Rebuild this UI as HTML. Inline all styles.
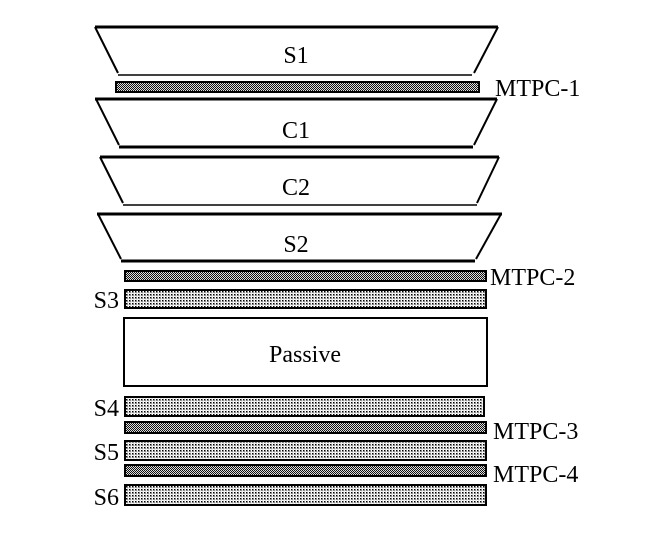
<!DOCTYPE html>
<html><head><style>html,body{margin:0;padding:0;background:#fff;}svg{display:block}</style></head>
<body>
<svg width="655" height="540" xmlns="http://www.w3.org/2000/svg" font-family="Liberation Serif, serif" font-size="24">
<defs>
<pattern id="dot" width="3" height="3" patternUnits="userSpaceOnUse"><rect width="3" height="3" fill="#fff"/><rect x="0" y="0" width="1.5" height="1.5" fill="#000"/><rect x="1.5" y="1.5" width="0.8" height="0.8" fill="#444"/></pattern>
<pattern id="chk" width="2" height="2" patternUnits="userSpaceOnUse"><rect width="2" height="2" fill="#ddd"/><rect x="0" y="0" width="1" height="1" fill="#111"/><rect x="1" y="1" width="1" height="1" fill="#111"/></pattern>
</defs>
<g stroke="#000" fill="none">
<line x1="95" y1="27" x2="498" y2="27" stroke-width="3"/>
<line x1="95" y1="27" x2="118" y2="73" stroke-width="2"/>
<line x1="498" y1="27" x2="474" y2="73" stroke-width="2"/>
<line x1="118" y1="75" x2="472" y2="75" stroke-width="1.5"/>
<line x1="95" y1="99" x2="497" y2="99" stroke-width="3"/>
<line x1="96" y1="99" x2="119" y2="145" stroke-width="2"/>
<line x1="497" y1="99" x2="474" y2="145" stroke-width="2"/>
<line x1="119" y1="147" x2="473" y2="147" stroke-width="3"/>
<line x1="100" y1="157" x2="499" y2="157" stroke-width="3"/>
<line x1="100" y1="157" x2="123" y2="203" stroke-width="2"/>
<line x1="499" y1="157" x2="477" y2="203" stroke-width="2"/>
<line x1="123" y1="205" x2="477" y2="205" stroke-width="1.5"/>
<line x1="97" y1="214" x2="502" y2="214" stroke-width="3"/>
<line x1="98" y1="214" x2="121" y2="259" stroke-width="2"/>
<line x1="501" y1="214" x2="476" y2="259" stroke-width="2"/>
<line x1="121" y1="261" x2="475" y2="261" stroke-width="3"/>
</g>
<g text-anchor="middle">
<text x="296" y="63">S1</text>
<text x="296" y="138">C1</text>
<text x="296" y="195">C2</text>
<text x="296" y="252">S2</text>
</g>
<g stroke="#000" stroke-width="2">
<rect x="116" y="82" width="363" height="10" fill="url(#chk)"/>
<rect x="125" y="271" width="361" height="10" fill="url(#chk)"/>
<rect x="125" y="290" width="361" height="18" fill="url(#dot)"/>
<rect x="124" y="318" width="363" height="68" fill="#fff"/>
<rect x="125" y="397" width="359" height="19" fill="url(#dot)"/>
<rect x="125" y="422" width="361" height="11" fill="url(#chk)"/>
<rect x="125" y="441" width="361" height="19" fill="url(#dot)"/>
<rect x="125" y="465" width="361" height="11" fill="url(#chk)"/>
<rect x="125" y="485" width="361" height="20" fill="url(#dot)"/>
</g>
<text x="305" y="362" text-anchor="middle">Passive</text>
<text x="495" y="96">MTPC-1</text>
<text x="490" y="285">MTPC-2</text>
<text x="493" y="439">MTPC-3</text>
<text x="493" y="482">MTPC-4</text>
<g text-anchor="end">
<text x="119" y="308">S3</text>
<text x="119" y="416">S4</text>
<text x="119" y="460">S5</text>
<text x="119" y="505">S6</text>
</g>
</svg>
</body></html>
